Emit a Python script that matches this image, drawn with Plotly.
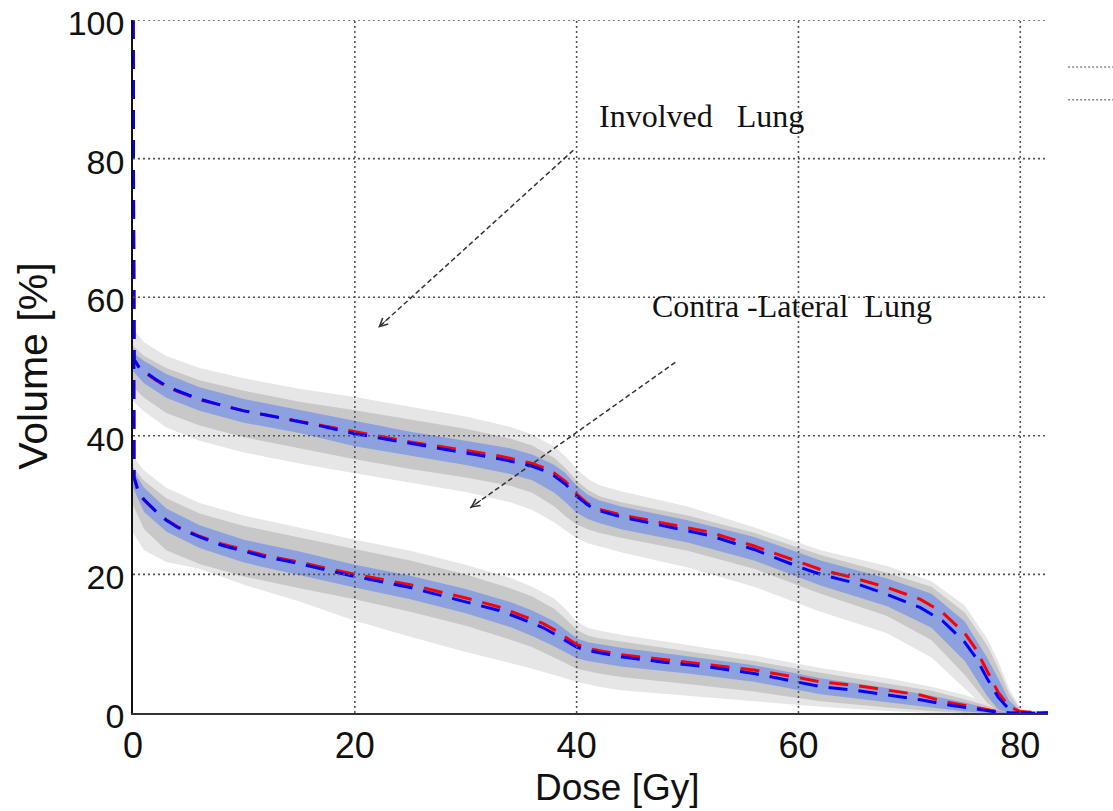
import plotly.graph_objects as go

# ---------------- data ----------------
dose = [0, 0.1, 0.5, 1, 2, 3, 4, 6, 8, 10, 12, 14, 17, 20, 25, 30, 33, 35, 36, 37,
        38, 39, 40, 41, 42, 44, 48, 52, 56, 60, 62, 65, 68, 71, 73, 75, 76, 77, 78, 79,
        80, 82.5]

involved_blue = [100, 51, 50, 49.3, 48.2, 47.2, 46.5, 45.3, 44.4, 43.6, 43, 42.4, 41.4, 40.3, 38.9,
                 37.6, 36.7, 36, 35.6, 35, 34.2, 33, 31.3, 30, 29.2, 28.3, 27, 25.6, 23.6, 21.1,
                 20, 18.8, 17.1, 15.2, 13.3, 10.2, 8, 5, 2.3, 0.5, 0, 0]
involved_red = [100, 51, 50, 49.2, 48.1, 47.1, 46.4, 45.2, 44.4, 43.6, 43, 42.4, 41.5, 40.5, 39.1,
                37.9, 37.1, 36.4, 36, 35.4, 34.6, 33.4, 31.6, 30.2, 29.4, 28.6, 27.4, 26.1, 24.1, 21.9,
                20.7, 19.5, 18.1, 16.4, 14.5, 11.5, 9.2, 6.1, 3, 0.9, 0.2, 0]

contra_blue = [100, 34, 31.8, 30.8, 29.2, 27.8, 26.8, 25.4, 24.2, 23.3, 22.5, 21.9, 20.8, 19.7, 18.1,
               16.1, 14.8, 13.6, 13, 12.3, 11.4, 10.4, 9.5, 9, 8.7, 8.1, 7.3, 6.6, 5.7, 4.4,
               3.8, 3.3, 2.6, 1.9, 1.3, 0.8, 0.5, 0.3, 0.1, 0, 0, 0]
contra_red = [100, 34, 31.8, 30.7, 29.2, 27.9, 26.9, 25.5, 24.4, 23.5, 22.7, 22.1, 21.1, 20, 18.5,
              16.6, 15.3, 14.1, 13.6, 12.9, 12, 11, 9.9, 9.3, 9, 8.4, 7.7, 7, 6.2, 5.1,
              4.5, 4, 3.3, 2.6, 1.7, 1.1, 0.8, 0.5, 0.2, 0.05, 0, 0]

band_dose = [0, 1, 3, 6, 10, 15, 20, 25, 30, 34, 36, 38, 39, 40, 41, 42, 44, 50, 56, 62,
             68, 72, 75, 77, 78, 79, 80, 81]

inv_light_hi = [55.5, 53.5, 51.5, 49.8, 48.3, 46.8, 45.6, 44.2, 42.8, 41.3, 40.2, 38.4, 37, 35.2, 33.8,
                32.9, 32, 29.8, 26.8, 23.5, 21.2, 19, 15.5, 10.8, 7.5, 3.5, 0.8, 0]
inv_dark_hi = [53, 51.5, 49.8, 48, 46.5, 44.9, 43.7, 42.3, 41, 39.6, 38.6, 36.8, 35.3, 33.5, 32.2,
               31.3, 30.4, 28.5, 26, 22.8, 20.2, 18.2, 14.5, 9.8, 6.5, 2.8, 0.5, 0]
inv_blue_hi = [52, 50.8, 48.9, 47, 45.3, 43.7, 42.1, 40.6, 39.3, 38.2, 37.3, 35.8, 34.6, 32.8, 31.5,
               30.7, 29.8, 27.8, 25.4, 22, 19.4, 17.2, 13.2, 8, 5, 1.8, 0.3, 0]
inv_blue_lo = [49.3, 47.6, 45.5, 43.6, 41.9, 40.4, 38.5, 37.1, 35.8, 34.5, 33.6, 31.8, 30.4, 28.9, 28,
               27.4, 26.5, 24.6, 22, 18.4, 15.4, 12.3, 7.5, 2.5, 0.5, 0, 0, 0]
inv_dark_lo = [47, 45.5, 43.3, 41.5, 39.8, 38.2, 36.6, 35.2, 34, 32.8, 31.8, 29.8, 28.4, 27.2, 26.5,
               26, 25.3, 23.4, 20.8, 17.2, 14, 10.5, 5.5, 1.5, 0.2, 0, 0, 0]
inv_light_lo = [45, 43.5, 41.2, 39.3, 37.6, 36, 34.6, 33.2, 31.9, 30.4, 29.3, 27.5, 26.3, 25.2, 24.5,
                24, 23.2, 21, 18.2, 14.6, 11.5, 8, 3.5, 0.5, 0, 0, 0, 0]

con_light_hi = [37, 35, 32.5, 30.3, 28.5, 26.7, 25, 23.4, 21.4, 19.5, 18.2, 16.5, 15, 13.2, 12.3,
                11.9, 11.3, 9.8, 8.3, 6.5, 5, 3.8, 2.6, 1.5, 0.8, 0.3, 0, 0]
con_dark_hi = [35.5, 33.5, 31, 28.8, 27, 25.3, 23.6, 22, 20, 18, 16.8, 15, 13.6, 12, 11.2,
               10.8, 10.3, 8.9, 7.5, 5.8, 4.3, 3.2, 2, 1, 0.5, 0.1, 0, 0]
con_blue_hi = [35, 32.5, 29.5, 27.1, 25, 23.3, 21.4, 19.8, 17.9, 16, 14.8, 13.2, 12, 10.8, 10.2,
               9.9, 9.4, 8.2, 6.9, 5, 3.6, 2.5, 1.5, 0.7, 0.3, 0, 0, 0]
con_blue_lo = [32.5, 29, 26.2, 23.8, 21.7, 19.9, 18.1, 16.4, 14.4, 12.4, 11.1, 9.6, 8.8, 7.9, 7.5,
               7.2, 6.7, 5.7, 4.5, 2.7, 1.6, 0.8, 0.2, 0, 0, 0, 0, 0]
con_dark_lo = [30, 26.5, 23.5, 21.5, 19.7, 18, 16.4, 14.6, 12.6, 10.6, 9.5, 8, 7.2, 6.4, 6,
               5.7, 5.2, 4.2, 3.1, 1.7, 0.8, 0.3, 0, 0, 0, 0, 0, 0]
con_light_lo = [26, 23.5, 21.8, 20.8, 18.5, 16.1, 13.3, 11, 8.8, 7.2, 6.4, 5.5, 5, 4.5, 4.1,
                3.8, 3.3, 2.5, 1.7, 0.9, 0.3, 0, 0, 0, 0, 0, 0, 0]

x_ticks = [0, 20, 40, 60, 80]
y_ticks = [0, 20, 40, 60, 80, 100]

LIGHT = "#e6e6e6"
DARK = "#c8c8c8"
BAND_BLUE = "#8ca1de"

fig = go.Figure()


def band(lo, hi, color):
    fig.add_trace(go.Scatter(
        x=band_dose + band_dose[::-1], y=hi + lo[::-1], fill="toself",
        fillcolor=color, line=dict(width=0), mode="lines", hoverinfo="skip",
        showlegend=False))


for lo, hi, c in [(inv_light_lo, inv_light_hi, LIGHT), (con_light_lo, con_light_hi, LIGHT),
                  (inv_dark_lo, inv_dark_hi, DARK), (con_dark_lo, con_dark_hi, DARK),
                  (inv_blue_lo, inv_blue_hi, BAND_BLUE), (con_blue_lo, con_blue_hi, BAND_BLUE)]:
    band(lo, hi, c)

# grid as dotted shapes above the bands
shapes = []
for xv in x_ticks[1:]:
    shapes.append(dict(type="line", xref="x", yref="y", x0=xv, x1=xv, y0=0, y1=100,
                       line=dict(color="#555555", width=1.6, dash="2px,3px"), layer="above"))
for yv in y_ticks[1:]:
    shapes.append(dict(type="line", xref="x", yref="y", x0=0, x1=82.5, y0=yv, y1=yv,
                       line=dict(color="#555555", width=1.6, dash="2px,3px"), layer="above"))

for ys, col in [(involved_red, "#ff0000"), (contra_red, "#ff0000"),
                (involved_blue, "#0000ff"), (contra_blue, "#0000ff")]:
    fig.add_trace(go.Scatter(x=dose, y=ys, mode="lines",
                             line=dict(color=col, width=3, dash="19px,11px"),
                             showlegend=False, hoverinfo="skip"))

# arrows (dashed)
arrows = [((39.7, 81.2), (22.1, 55.6)), ((48.9, 50.6), (30.4, 29.6))]
annotations = []
for (x0, y0), (x1, y1) in arrows:
    shapes.append(dict(type="line", xref="x", yref="y", x0=x0, y0=y0, x1=x1, y1=y1,
                       line=dict(color="#333333", width=1.5, dash="5px,3px"), layer="above"))
    annotations.append(dict(x=x1, y=y1, ax=x1 + (x0 - x1) * 0.06, ay=y1 + (y0 - y1) * 0.06,
                            xref="x", yref="y", axref="x", ayref="y", text="",
                            showarrow=True, arrowhead=5, arrowsize=1.6, arrowwidth=1,
                            arrowcolor="#333333"))

annotations.append(dict(x=41.8, y=86.1, xref="x", yref="y", text="Involved\u00a0\u00a0 Lung",
                        showarrow=False, xanchor="left", yanchor="middle",
                        font=dict(family="Liberation Serif", size=32, color="#111111")))
annotations.append(dict(x=46.6, y=58.7, xref="x", yref="y",
                        text="Contra\u00a0-Lateral\u00a0 Lung",
                        showarrow=False, xanchor="left", yanchor="middle",
                        font=dict(family="Liberation Serif", size=32, color="#111111")))

# axis titles as annotations
annotations.append(dict(x=-0.110, y=0.5, xref="paper", yref="paper", text="Volume [%]",
                        textangle=-90, showarrow=False, xanchor="center", yanchor="middle",
                        font=dict(family="Liberation Sans", size=41, color="#111111")))
annotations.append(dict(x=0.529, y=-0.108, xref="paper", yref="paper", text="Dose [Gy]",
                        showarrow=False, xanchor="center", yanchor="middle",
                        font=dict(family="Liberation Sans", size=37, color="#111111")))

# legend stubs at top right (cut off)
for py in [0.932, 0.885]:
    shapes.append(dict(type="line", xref="paper", yref="paper", x0=1.022, x1=1.09, y0=py, y1=py,
                       line=dict(color="#888888", width=1.5, dash="2px,2px")))

fig.update_layout(
    width=1113, height=811,
    margin=dict(l=133, r=65, t=20, b=98, autoexpand=False),
    paper_bgcolor="white", plot_bgcolor="white",
    font=dict(family="Liberation Sans", size=36, color="#111111"),
    shapes=shapes, annotations=annotations,
    xaxis=dict(range=[0, 82.5], tickvals=x_ticks, showgrid=False, zeroline=False,
               showline=True, linecolor="#333333", linewidth=2, ticks="", automargin=False,
               ticklabeloverflow="allow", tickfont=dict(size=36)),
    yaxis=dict(range=[0, 100], tickvals=y_ticks, showgrid=False, zeroline=False,
               showline=True, linecolor="#111111", linewidth=1.5, ticks="", automargin=False,
               ticklabeloverflow="allow", ticklabelshift=3, tickfont=dict(size=34)),
)

fig.write_html("out.html", config={"displayModeBar": False},
               post_script="document.body.style.margin='0';document.body.style.padding='0';")
